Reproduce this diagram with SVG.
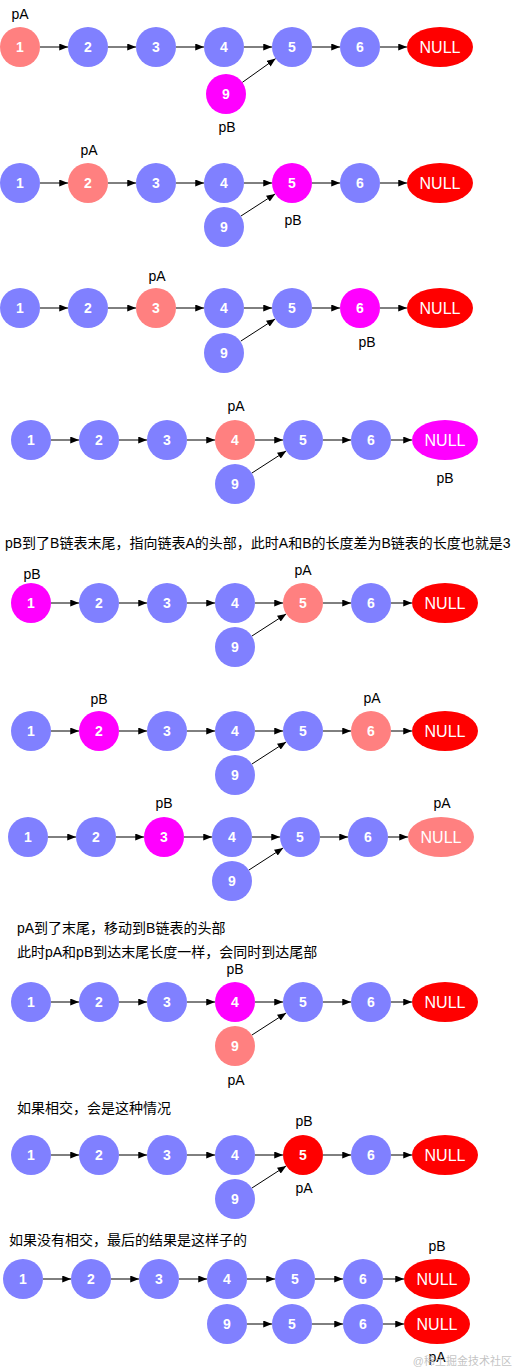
<svg xmlns="http://www.w3.org/2000/svg" width="518" height="1372" viewBox="0 0 518 1372">
<style>
.b{fill:#8080ff}.p{fill:#ff8080}.m{fill:#ff00ff}.r{fill:#ff0000}
.n{fill:#fff;font-family:"Liberation Sans",Arial,sans-serif;font-size:14px;font-weight:bold;text-anchor:middle}
.nl{fill:#fff;font-family:"Liberation Sans",Arial,sans-serif;font-size:16px;text-anchor:middle}
.l{fill:#000;font-family:"Liberation Sans",Arial,sans-serif;font-size:14px;text-anchor:middle}
.t{fill:#000;font-family:"Liberation Sans","Noto Sans CJK SC",sans-serif;font-size:14px}
.wm{fill:#b8b8b8;fill-opacity:0.85;font-family:"Liberation Sans","Noto Sans CJK SC",sans-serif;font-size:11px;text-anchor:end}
#conn line{stroke:#000;stroke-width:1;marker-end:url(#ah)}
</style>
<defs>
<marker id="ah" viewBox="0 0 10 8" refX="10" refY="4" markerWidth="9" markerHeight="7" markerUnits="userSpaceOnUse" orient="auto"><path d="M0,0L10,4L0,8z" fill="#000"/></marker>
</defs>
<rect width="518" height="1372" fill="#fff"/>

<g id="conn">
<line x1="40" y1="47" x2="68" y2="47"/><line x1="108" y1="47" x2="136" y2="47"/><line x1="176" y1="47" x2="204" y2="47"/><line x1="244" y1="47" x2="272" y2="47"/><line x1="312" y1="47" x2="340" y2="47"/><line x1="380" y1="47" x2="407" y2="47"/><line x1="242.3" y1="82.4" x2="275.7" y2="58.6"/>
<line x1="40" y1="183" x2="68" y2="183"/><line x1="108" y1="183" x2="136" y2="183"/><line x1="176" y1="183" x2="204" y2="183"/><line x1="244" y1="183" x2="272" y2="183"/><line x1="312" y1="183" x2="340" y2="183"/><line x1="380" y1="183" x2="407" y2="183"/><line x1="240.8" y1="216.1" x2="275.2" y2="193.9"/>
<line x1="40" y1="308" x2="68" y2="308"/><line x1="108" y1="308" x2="136" y2="308"/><line x1="176" y1="308" x2="204" y2="308"/><line x1="244" y1="308" x2="272" y2="308"/><line x1="312" y1="308" x2="340" y2="308"/><line x1="380" y1="308" x2="407" y2="308"/><line x1="240.8" y1="341.1" x2="275.2" y2="318.9"/>
<line x1="51" y1="440" x2="79" y2="440"/><line x1="119" y1="440" x2="147" y2="440"/><line x1="187" y1="440" x2="215" y2="440"/><line x1="255" y1="440" x2="283" y2="440"/><line x1="323" y1="440" x2="351" y2="440"/><line x1="391" y1="440" x2="412" y2="440"/><line x1="251.8" y1="473.1" x2="286.2" y2="450.9"/>
<line x1="51" y1="603" x2="79" y2="603"/><line x1="119" y1="603" x2="147" y2="603"/><line x1="187" y1="603" x2="215" y2="603"/><line x1="255" y1="603" x2="283" y2="603"/><line x1="323" y1="603" x2="351" y2="603"/><line x1="391" y1="603" x2="412" y2="603"/><line x1="251.8" y1="636.1" x2="286.2" y2="613.9"/>
<line x1="51" y1="731" x2="79" y2="731"/><line x1="119" y1="731" x2="147" y2="731"/><line x1="187" y1="731" x2="215" y2="731"/><line x1="255" y1="731" x2="283" y2="731"/><line x1="323" y1="731" x2="351" y2="731"/><line x1="391" y1="731" x2="412" y2="731"/><line x1="251.8" y1="764.1" x2="286.2" y2="741.9"/>
<line x1="48" y1="837" x2="76" y2="837"/><line x1="116" y1="837" x2="144" y2="837"/><line x1="184" y1="837" x2="212" y2="837"/><line x1="252" y1="837" x2="280" y2="837"/><line x1="320" y1="837" x2="348" y2="837"/><line x1="388" y1="837" x2="408" y2="837"/><line x1="248.8" y1="870.1" x2="283.2" y2="847.9"/>
<line x1="51" y1="1002" x2="79" y2="1002"/><line x1="119" y1="1002" x2="147" y2="1002"/><line x1="187" y1="1002" x2="215" y2="1002"/><line x1="255" y1="1002" x2="283" y2="1002"/><line x1="323" y1="1002" x2="351" y2="1002"/><line x1="391" y1="1002" x2="412" y2="1002"/><line x1="251.8" y1="1035.1" x2="286.2" y2="1012.9"/>
<line x1="51" y1="1155" x2="79" y2="1155"/><line x1="119" y1="1155" x2="147" y2="1155"/><line x1="187" y1="1155" x2="215" y2="1155"/><line x1="255" y1="1155" x2="283" y2="1155"/><line x1="323" y1="1155" x2="351" y2="1155"/><line x1="391" y1="1155" x2="412" y2="1155"/><line x1="251.8" y1="1188.1" x2="286.2" y2="1165.9"/>
<line x1="43" y1="1279" x2="71" y2="1279"/><line x1="111" y1="1279" x2="139" y2="1279"/><line x1="179" y1="1279" x2="207" y2="1279"/><line x1="247" y1="1279" x2="275" y2="1279"/><line x1="315" y1="1279" x2="343" y2="1279"/><line x1="383" y1="1279" x2="404" y2="1279"/>
<line x1="247" y1="1324" x2="272" y2="1324"/><line x1="312" y1="1324" x2="343" y2="1324"/><line x1="383" y1="1324" x2="404" y2="1324"/>
</g>

<g id="f1-n1"><circle class="p" cx="20" cy="47" r="20"/><text class="n" x="20" y="52">1</text></g>
<g id="f1-n2"><circle class="b" cx="88" cy="47" r="20"/><text class="n" x="88" y="52">2</text></g>
<g id="f1-n3"><circle class="b" cx="156" cy="47" r="20"/><text class="n" x="156" y="52">3</text></g>
<g id="f1-n4"><circle class="b" cx="224" cy="47" r="20"/><text class="n" x="224" y="52">4</text></g>
<g id="f1-n5"><circle class="b" cx="292" cy="47" r="20"/><text class="n" x="292" y="52">5</text></g>
<g id="f1-n6"><circle class="b" cx="360" cy="47" r="20"/><text class="n" x="360" y="52">6</text></g>
<g id="f1-null"><ellipse class="r" cx="440" cy="47" rx="33" ry="20"/><text class="nl" x="440" y="53">NULL</text></g>
<g id="f1-n9"><circle class="m" cx="226" cy="94" r="20"/><text class="n" x="226" y="99">9</text></g>
<g id="f1-pA"><text class="l" x="20" y="19">pA</text></g>
<g id="f1-pB"><text class="l" x="227" y="132">pB</text></g>

<g id="f2-n1"><circle class="b" cx="20" cy="183" r="20"/><text class="n" x="20" y="188">1</text></g>
<g id="f2-n2"><circle class="p" cx="88" cy="183" r="20"/><text class="n" x="88" y="188">2</text></g>
<g id="f2-n3"><circle class="b" cx="156" cy="183" r="20"/><text class="n" x="156" y="188">3</text></g>
<g id="f2-n4"><circle class="b" cx="224" cy="183" r="20"/><text class="n" x="224" y="188">4</text></g>
<g id="f2-n5"><circle class="m" cx="292" cy="183" r="20"/><text class="n" x="292" y="188">5</text></g>
<g id="f2-n6"><circle class="b" cx="360" cy="183" r="20"/><text class="n" x="360" y="188">6</text></g>
<g id="f2-null"><ellipse class="r" cx="440" cy="183" rx="33" ry="20"/><text class="nl" x="440" y="189">NULL</text></g>
<g id="f2-n9"><circle class="b" cx="224" cy="227" r="20"/><text class="n" x="224" y="232">9</text></g>
<g id="f2-pA"><text class="l" x="89" y="155">pA</text></g>
<g id="f2-pB"><text class="l" x="293" y="225">pB</text></g>

<g id="f3-n1"><circle class="b" cx="20" cy="308" r="20"/><text class="n" x="20" y="313">1</text></g>
<g id="f3-n2"><circle class="b" cx="88" cy="308" r="20"/><text class="n" x="88" y="313">2</text></g>
<g id="f3-n3"><circle class="p" cx="156" cy="308" r="20"/><text class="n" x="156" y="313">3</text></g>
<g id="f3-n4"><circle class="b" cx="224" cy="308" r="20"/><text class="n" x="224" y="313">4</text></g>
<g id="f3-n5"><circle class="b" cx="292" cy="308" r="20"/><text class="n" x="292" y="313">5</text></g>
<g id="f3-n6"><circle class="m" cx="360" cy="308" r="20"/><text class="n" x="360" y="313">6</text></g>
<g id="f3-null"><ellipse class="r" cx="440" cy="308" rx="33" ry="20"/><text class="nl" x="440" y="314">NULL</text></g>
<g id="f3-n9"><circle class="b" cx="224" cy="353" r="20"/><text class="n" x="224" y="358">9</text></g>
<g id="f3-pA"><text class="l" x="157" y="281">pA</text></g>
<g id="f3-pB"><text class="l" x="367" y="347">pB</text></g>

<g id="f4-n1"><circle class="b" cx="31" cy="440" r="20"/><text class="n" x="31" y="445">1</text></g>
<g id="f4-n2"><circle class="b" cx="99" cy="440" r="20"/><text class="n" x="99" y="445">2</text></g>
<g id="f4-n3"><circle class="b" cx="167" cy="440" r="20"/><text class="n" x="167" y="445">3</text></g>
<g id="f4-n4"><circle class="p" cx="235" cy="440" r="20"/><text class="n" x="235" y="445">4</text></g>
<g id="f4-n5"><circle class="b" cx="303" cy="440" r="20"/><text class="n" x="303" y="445">5</text></g>
<g id="f4-n6"><circle class="b" cx="371" cy="440" r="20"/><text class="n" x="371" y="445">6</text></g>
<g id="f4-null"><ellipse class="m" cx="445" cy="440" rx="33" ry="20"/><text class="nl" x="445" y="446">NULL</text></g>
<g id="f4-n9"><circle class="b" cx="235" cy="484" r="20"/><text class="n" x="235" y="489">9</text></g>
<g id="f4-pA"><text class="l" x="236" y="411">pA</text></g>
<g id="f4-pB"><text class="l" x="445" y="483">pB</text></g>

<g id="f5-note"><text class="t" x="5" y="548">pB到了B链表末尾，指向链表A的头部，此时A和B的长度差为B链表的长度也就是3</text></g>
<g id="f5-n1"><circle class="m" cx="31" cy="603" r="20"/><text class="n" x="31" y="608">1</text></g>
<g id="f5-n2"><circle class="b" cx="99" cy="603" r="20"/><text class="n" x="99" y="608">2</text></g>
<g id="f5-n3"><circle class="b" cx="167" cy="603" r="20"/><text class="n" x="167" y="608">3</text></g>
<g id="f5-n4"><circle class="b" cx="235" cy="603" r="20"/><text class="n" x="235" y="608">4</text></g>
<g id="f5-n5"><circle class="p" cx="303" cy="603" r="20"/><text class="n" x="303" y="608">5</text></g>
<g id="f5-n6"><circle class="b" cx="371" cy="603" r="20"/><text class="n" x="371" y="608">6</text></g>
<g id="f5-null"><ellipse class="r" cx="445" cy="603" rx="33" ry="20"/><text class="nl" x="445" y="609">NULL</text></g>
<g id="f5-n9"><circle class="b" cx="235" cy="647" r="20"/><text class="n" x="235" y="652">9</text></g>
<g id="f5-pB"><text class="l" x="32" y="579">pB</text></g>
<g id="f5-pA"><text class="l" x="303" y="575">pA</text></g>

<g id="f6-n1"><circle class="b" cx="31" cy="731" r="20"/><text class="n" x="31" y="736">1</text></g>
<g id="f6-n2"><circle class="m" cx="99" cy="731" r="20"/><text class="n" x="99" y="736">2</text></g>
<g id="f6-n3"><circle class="b" cx="167" cy="731" r="20"/><text class="n" x="167" y="736">3</text></g>
<g id="f6-n4"><circle class="b" cx="235" cy="731" r="20"/><text class="n" x="235" y="736">4</text></g>
<g id="f6-n5"><circle class="b" cx="303" cy="731" r="20"/><text class="n" x="303" y="736">5</text></g>
<g id="f6-n6"><circle class="p" cx="371" cy="731" r="20"/><text class="n" x="371" y="736">6</text></g>
<g id="f6-null"><ellipse class="r" cx="445" cy="731" rx="33" ry="20"/><text class="nl" x="445" y="737">NULL</text></g>
<g id="f6-n9"><circle class="b" cx="235" cy="775" r="20"/><text class="n" x="235" y="780">9</text></g>
<g id="f6-pB"><text class="l" x="99" y="704">pB</text></g>
<g id="f6-pA"><text class="l" x="372" y="703">pA</text></g>

<g id="f7-n1"><circle class="b" cx="28" cy="837" r="20"/><text class="n" x="28" y="842">1</text></g>
<g id="f7-n2"><circle class="b" cx="96" cy="837" r="20"/><text class="n" x="96" y="842">2</text></g>
<g id="f7-n3"><circle class="m" cx="164" cy="837" r="20"/><text class="n" x="164" y="842">3</text></g>
<g id="f7-n4"><circle class="b" cx="232" cy="837" r="20"/><text class="n" x="232" y="842">4</text></g>
<g id="f7-n5"><circle class="b" cx="300" cy="837" r="20"/><text class="n" x="300" y="842">5</text></g>
<g id="f7-n6"><circle class="b" cx="368" cy="837" r="20"/><text class="n" x="368" y="842">6</text></g>
<g id="f7-null"><ellipse class="p" cx="441" cy="837" rx="33" ry="20"/><text class="nl" x="441" y="843">NULL</text></g>
<g id="f7-n9"><circle class="b" cx="232" cy="881" r="20"/><text class="n" x="232" y="886">9</text></g>
<g id="f7-pB"><text class="l" x="164" y="808">pB</text></g>
<g id="f7-pA"><text class="l" x="442" y="808">pA</text></g>

<g id="f8-note"><text class="t" x="17" y="933">pA到了末尾，移动到B链表的头部</text><text class="t" x="17" y="957">此时pA和pB到达末尾长度一样，会同时到达尾部</text></g>
<g id="f8-n1"><circle class="b" cx="31" cy="1002" r="20"/><text class="n" x="31" y="1007">1</text></g>
<g id="f8-n2"><circle class="b" cx="99" cy="1002" r="20"/><text class="n" x="99" y="1007">2</text></g>
<g id="f8-n3"><circle class="b" cx="167" cy="1002" r="20"/><text class="n" x="167" y="1007">3</text></g>
<g id="f8-n4"><circle class="m" cx="235" cy="1002" r="20"/><text class="n" x="235" y="1007">4</text></g>
<g id="f8-n5"><circle class="b" cx="303" cy="1002" r="20"/><text class="n" x="303" y="1007">5</text></g>
<g id="f8-n6"><circle class="b" cx="371" cy="1002" r="20"/><text class="n" x="371" y="1007">6</text></g>
<g id="f8-null"><ellipse class="r" cx="445" cy="1002" rx="33" ry="20"/><text class="nl" x="445" y="1008">NULL</text></g>
<g id="f8-n9"><circle class="p" cx="235" cy="1046" r="20"/><text class="n" x="235" y="1051">9</text></g>
<g id="f8-pB"><text class="l" x="235" y="974">pB</text></g>
<g id="f8-pA"><text class="l" x="236" y="1085">pA</text></g>

<g id="f9-note"><text class="t" x="17" y="1113">如果相交，会是这种情况</text></g>
<g id="f9-n1"><circle class="b" cx="31" cy="1155" r="20"/><text class="n" x="31" y="1160">1</text></g>
<g id="f9-n2"><circle class="b" cx="99" cy="1155" r="20"/><text class="n" x="99" y="1160">2</text></g>
<g id="f9-n3"><circle class="b" cx="167" cy="1155" r="20"/><text class="n" x="167" y="1160">3</text></g>
<g id="f9-n4"><circle class="b" cx="235" cy="1155" r="20"/><text class="n" x="235" y="1160">4</text></g>
<g id="f9-n5"><circle class="r" cx="303" cy="1155" r="20"/><text class="n" x="303" y="1160">5</text></g>
<g id="f9-n6"><circle class="b" cx="371" cy="1155" r="20"/><text class="n" x="371" y="1160">6</text></g>
<g id="f9-null"><ellipse class="r" cx="445" cy="1155" rx="33" ry="20"/><text class="nl" x="445" y="1161">NULL</text></g>
<g id="f9-n9"><circle class="b" cx="235" cy="1199" r="20"/><text class="n" x="235" y="1204">9</text></g>
<g id="f9-pB"><text class="l" x="304" y="1126">pB</text></g>
<g id="f9-pA"><text class="l" x="304" y="1193">pA</text></g>

<g id="f10-note"><text class="t" x="9" y="1245">如果没有相交，最后的结果是这样子的</text></g>
<g id="f10-a1"><circle class="b" cx="23" cy="1279" r="20"/><text class="n" x="23" y="1284">1</text></g>
<g id="f10-a2"><circle class="b" cx="91" cy="1279" r="20"/><text class="n" x="91" y="1284">2</text></g>
<g id="f10-a3"><circle class="b" cx="159" cy="1279" r="20"/><text class="n" x="159" y="1284">3</text></g>
<g id="f10-a4"><circle class="b" cx="227" cy="1279" r="20"/><text class="n" x="227" y="1284">4</text></g>
<g id="f10-a5"><circle class="b" cx="295" cy="1279" r="20"/><text class="n" x="295" y="1284">5</text></g>
<g id="f10-a6"><circle class="b" cx="363" cy="1279" r="20"/><text class="n" x="363" y="1284">6</text></g>
<g id="f10-anull"><ellipse class="r" cx="437" cy="1279" rx="33" ry="20"/><text class="nl" x="437" y="1285">NULL</text></g>
<g id="f10-b9"><circle class="b" cx="227" cy="1324" r="20"/><text class="n" x="227" y="1329">9</text></g>
<g id="f10-b5"><circle class="b" cx="292" cy="1324" r="20"/><text class="n" x="292" y="1329">5</text></g>
<g id="f10-b6"><circle class="b" cx="363" cy="1324" r="20"/><text class="n" x="363" y="1329">6</text></g>
<g id="f10-bnull"><ellipse class="r" cx="437" cy="1324" rx="33" ry="20"/><text class="nl" x="437" y="1330">NULL</text></g>
<g id="f10-pB"><text class="l" x="437" y="1251">pB</text></g>
<g id="f10-pA"><text class="l" x="437" y="1362">pA</text></g>
<g id="watermark"><text class="wm" x="512" y="1365">@稀土掘金技术社区</text></g>
</svg>
